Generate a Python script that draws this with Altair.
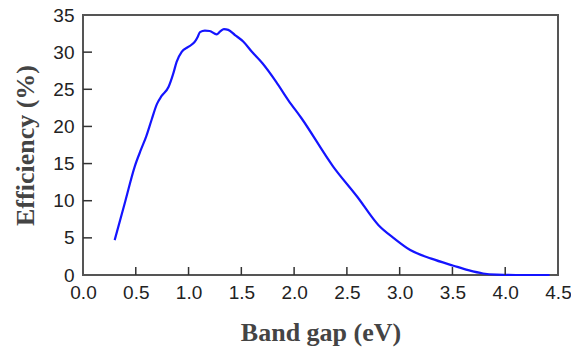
import altair as alt
import pandas as pd

band_gap = [0.30, 0.40, 0.49, 0.55, 0.60, 0.65, 0.70, 0.745, 0.81, 0.855, 0.887, 0.935,
            0.997, 1.06, 1.085, 1.108, 1.155, 1.20, 1.266, 1.30, 1.335, 1.376, 1.44,
            1.52, 1.60, 1.70, 1.83, 1.944, 2.07, 2.37, 2.60, 2.80, 2.95, 3.10, 3.30,
            3.51, 3.65, 3.79, 3.92, 4.10, 4.42]
efficiency = [4.7, 9.9, 14.6, 16.9, 18.7, 20.9, 23.0, 24.1, 25.3, 27.1, 28.7, 30.05,
              30.7, 31.4, 32.0, 32.7, 32.9, 32.85, 32.4, 32.8, 33.1, 33.0, 32.3,
              31.4, 30.05, 28.5, 26.0, 23.55, 21.1, 14.6, 10.5, 6.7, 4.9, 3.36, 2.2,
              1.25, 0.65, 0.2, 0.05, 0.0, 0.0]
x_ticks = [0.5, 1.0, 1.5, 2.0, 2.5, 3.0, 3.5, 4.0]
y_ticks = [5, 10, 15, 20, 25, 30]
x_labels = [0, 0.5, 1, 1.5, 2, 2.5, 3, 3.5, 4, 4.5]
y_labels = [0, 5, 10, 15, 20, 25, 30, 35]

W, H = 475, 260

df = pd.DataFrame({"x": band_gap, "y": efficiency})
xs = alt.Scale(domain=[0, 4.5], nice=False, zero=False)
ys = alt.Scale(domain=[0, 35], nice=False)

x_axis = alt.Axis(
    title="Band gap (eV)", values=x_labels,
    format=".1f", ticks=False, domain=False, grid=False,
    labelFont="Liberation Sans", labelFontSize=19, labelColor="#222222",
    labelPadding=8, labelFlush=False,
    titleFont="Liberation Serif", titleFontSize=26, titleFontWeight="bold",
    titleColor="#444444", titlePadding=17)
y_axis = alt.Axis(
    title="Efficiency (%)", values=y_labels,
    ticks=False, domain=False, grid=False,
    labelFont="Liberation Sans", labelFontSize=19, labelColor="#222222",
    labelPadding=9, labelFlush=False,
    titleFont="Liberation Serif", titleFontSize=26, titleFontWeight="bold",
    titleColor="#444444", titlePadding=14)

line = alt.Chart(df).mark_line(color="#1414ff", strokeWidth=2.2, interpolate="monotone").encode(
    x=alt.X("x:Q", scale=xs, axis=x_axis),
    y=alt.Y("y:Q", scale=ys, axis=y_axis),
)

xt = alt.Chart(pd.DataFrame({"t": x_ticks})).mark_rule(color="#333333", strokeWidth=1.5).encode(
    x=alt.X("t:Q", scale=xs, axis=x_axis),
    y=alt.value(H), y2=alt.value(H - 8),
)
yt = alt.Chart(pd.DataFrame({"t": y_ticks})).mark_rule(color="#333333", strokeWidth=1.5).encode(
    y=alt.Y("t:Q", scale=ys, axis=y_axis),
    x=alt.value(0), x2=alt.value(9),
)

chart = alt.layer(line, xt, yt).properties(
    width=W, height=H,
    background="white",
    autosize=alt.AutoSizeParams(type="none"),
    padding={"left": 83, "top": 15, "right": 13, "bottom": 74},
).configure_view(stroke="#555555", strokeWidth=2).configure_axis(titleLimit=0)

chart.save("out.html", embed_options={"renderer": "svg", "actions": False})
